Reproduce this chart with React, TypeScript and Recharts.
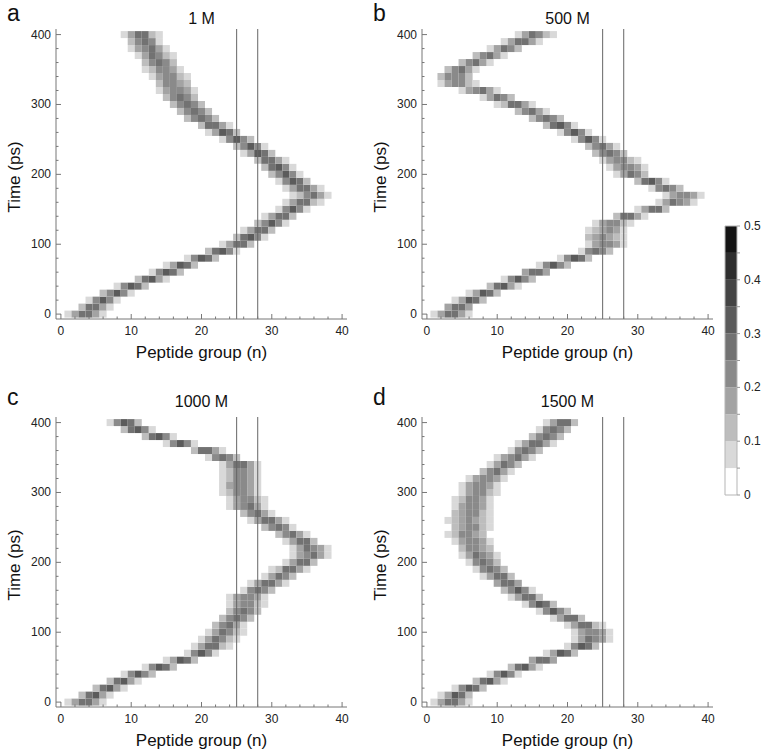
import React from "react";
import { ComposedChart, XAxis, YAxis, ReferenceArea, ReferenceLine } from "recharts";

const FONT = '"Liberation Sans", Arial, sans-serif';
const FRAME = "#777";

// time rows (ps) and peptide groups
const TIMES = [0, 10, 20, 30, 40, 50, 60, 70, 80, 90, 100, 110, 120, 130, 140, 150, 160, 170, 180, 190, 200,
  210, 220, 230, 240, 250, 260, 270, 280, 290, 300, 310, 320, 330, 340, 350, 360, 370, 380, 390, 400];
const GROUPS = Array.from({ length: 41 }, (_, i) => i);

// ticks
const X_TICKS = [0, 2, 4, 6, 8, 10, 12, 14, 16, 18, 20, 22, 24, 26, 28, 30, 32, 34, 36, 38, 40];
const X_MAJOR = [0, 10, 20, 30, 40];
const Y_TICKS = [0, 20, 40, 60, 80, 100, 120, 140, 160, 180, 200, 220, 240, 260, 280, 300, 320, 340, 360, 380, 400];
const Y_MAJOR = [0, 100, 200, 300, 400];
const MARKERS = [25, 28];

// colour scale
const LEVELS = [0, 0.05, 0.1, 0.15, 0.2, 0.25, 0.3, 0.35, 0.4, 0.45];
const SHADES = ["#ffffff", "#d9d9d9", "#bdbdbd", "#a3a3a3", "#8a8a8a", "#727272", "#5b5b5b", "#444444", "#2e2e2e", "#141414"];
const CB_TICKS = [0, 0.05, 0.1, 0.15, 0.2, 0.25, 0.3, 0.35, 0.4, 0.45, 0.5];

// band centre (peptide group) and spread per time row
const CENTER_1M = [3.5, 4.6, 6.0, 7.9, 10.2, 12.6, 15.2, 17.3, 20.2, 22.8, 25.4, 26.8, 28.3, 29.9, 31.4, 33.0, 34.4, 35.7, 34.5, 33.2, 31.9,
  30.8, 29.6, 28.3, 26.9, 25.1, 23.4, 21.6, 20.0, 19.0, 18.0, 17.1, 16.6, 15.9, 15.2, 14.7, 14.0, 13.3, 12.6, 11.9, 11.4];
const SPREAD_1M = [1.4, 1.3, 1.25, 1.25, 1.25, 1.25, 1.25, 1.25, 1.25, 1.25, 1.3, 1.3, 1.3, 1.3, 1.3, 1.3, 1.4, 1.5, 1.4, 1.3, 1.3,
  1.3, 1.3, 1.25, 1.25, 1.25, 1.25, 1.3, 1.4, 1.5, 1.55, 1.55, 1.6, 1.6, 1.6, 1.6, 1.55, 1.55, 1.5, 1.45, 1.4];

const CENTER_500M = [3.5, 4.5, 6.4, 8.4, 10.7, 13.1, 15.5, 18.1, 21.2, 24.1, 25.6, 25.3, 25.6, 26.3, 28.7, 32.3, 35.4, 36.4, 34.1, 31.8, 29.2,
  28.4, 27.3, 26.0, 24.8, 23.0, 21.0, 18.8, 17.0, 14.8, 12.6, 10.2, 7.6, 4.2, 4.0, 4.8, 6.8, 8.8, 11.2, 13.5, 15.3];
const SPREAD_500M = [1.4, 1.25, 1.25, 1.25, 1.25, 1.25, 1.25, 1.25, 1.25, 1.4, 1.7, 1.9, 1.9, 1.6, 1.4, 1.3, 1.5, 1.6, 1.4, 1.3, 1.5,
  1.6, 1.6, 1.5, 1.5, 1.3, 1.3, 1.3, 1.4, 1.4, 1.4, 1.4, 1.5, 1.6, 1.6, 1.5, 1.4, 1.4, 1.4, 1.5, 1.5];

const CENTER_1000M = [3.5, 4.7, 6.6, 8.7, 11.1, 14.2, 17.3, 20.0, 21.4, 22.3, 23.3, 23.8, 25.0, 26.0, 26.3, 26.6, 28.1, 29.5, 31.2, 32.6, 34.3,
  35.6, 35.4, 34.3, 32.8, 30.9, 29.5, 27.8, 26.6, 26.2, 25.7, 25.4, 25.7, 25.7, 25.5, 23.1, 20.7, 17.0, 13.8, 10.8, 9.2];
const SPREAD_1000M = [1.4, 1.25, 1.25, 1.25, 1.25, 1.25, 1.25, 1.3, 1.4, 1.5, 1.5, 1.5, 1.5, 1.5, 1.6, 1.6, 1.5, 1.4, 1.4, 1.4, 1.4,
  1.5, 1.5, 1.4, 1.4, 1.4, 1.4, 1.4, 1.5, 1.6, 1.7, 1.7, 1.6, 1.6, 1.5, 1.4, 1.4, 1.3, 1.3, 1.3, 1.25];

const CENTER_1500M = [3.5, 4.3, 6.2, 8.6, 11.0, 13.6, 16.5, 19.3, 22.2, 23.4, 23.6, 22.4, 20.3, 18.1, 16.2, 14.3, 12.9, 11.5, 10.3, 9.1, 8.1,
  7.4, 6.9, 6.4, 5.9, 6.2, 5.9, 6.2, 6.4, 6.7, 7.2, 7.6, 8.4, 9.8, 11.2, 12.6, 14.1, 15.5, 17.0, 18.1, 19.3];
const SPREAD_1500M = [1.4, 1.25, 1.25, 1.25, 1.25, 1.25, 1.25, 1.25, 1.3, 1.5, 1.6, 1.4, 1.3, 1.3, 1.3, 1.3, 1.3, 1.3, 1.4, 1.4, 1.5,
  1.5, 1.6, 1.7, 1.7, 1.8, 1.8, 1.8, 1.7, 1.7, 1.6, 1.6, 1.6, 1.5, 1.5, 1.5, 1.4, 1.4, 1.4, 1.4, 1.3];

const PANELS = [
  { letter: "a", title: "1 M", centers: CENTER_1M, spreads: SPREAD_1M, left: 0, top: 0 },
  { letter: "b", title: "500 M", centers: CENTER_500M, spreads: SPREAD_500M, left: 366, top: 0 },
  { letter: "c", title: "1000 M", centers: CENTER_1000M, spreads: SPREAD_1000M, left: 0, top: 388 },
  { letter: "d", title: "1500 M", centers: CENTER_1500M, spreads: SPREAD_1500M, left: 366, top: 388 },
];

type Cell = { n: number; t: number; p: number };

// occupancy of each group per time row (normalised over the groups)
function buildCells(centers: number[], spreads: number[]): Cell[] {
  const cells: Cell[] = [];
  TIMES.forEach((t, i) => {
    const c = centers[i];
    const s = spreads[i];
    const w = GROUPS.map((n) => Math.exp(-((n - c) ** 2) / (2 * s * s)));
    const total = w.reduce((a, b) => a + b, 0);
    GROUPS.forEach((n, j) => {
      const p = w[j] / total;
      if (p >= 0.05) cells.push({ n, t, p });
    });
  });
  return cells;
}

const shade = (p: number) => SHADES[Math.min(SHADES.length - 1, Math.floor(p / 0.05))];

const BottomTick = (props: any) => {
  const { x, y, payload } = props;
  const major = X_MAJOR.includes(payload.value);
  return (
    <g>
      <line x1={x} x2={x} y1={y} y2={y - (major ? 5 : 2.5)} stroke={FRAME} />
      {major && (
        <text x={x} y={y + 16} textAnchor="middle" fontSize={12} fontFamily={FONT} fill="#222">
          {payload.value}
        </text>
      )}
    </g>
  );
};

const TopTick = (props: any) => {
  const { x, y, payload } = props;
  const major = X_MAJOR.includes(payload.value);
  return <line x1={x} x2={x} y1={y} y2={y + (major ? 5 : 2.5)} stroke={FRAME} />;
};

const LeftTick = (props: any) => {
  const { x, y, payload } = props;
  const major = Y_MAJOR.includes(payload.value);
  return (
    <g>
      <line x1={x} x2={x + (major ? 5 : 2.5)} y1={y} y2={y} stroke={FRAME} />
      {major && (
        <text x={x - 5} y={y + 4} textAnchor="end" fontSize={12} fontFamily={FONT} fill="#222">
          {payload.value}
        </text>
      )}
    </g>
  );
};

const RightTick = (props: any) => {
  const { x, y, payload } = props;
  const major = Y_MAJOR.includes(payload.value);
  return <line x1={x} x2={x - (major ? 5 : 2.5)} y1={y} y2={y} stroke={FRAME} />;
};

const BarTick = (props: any) => {
  const { x, y, payload } = props;
  const v = payload.value as number;
  const major = Math.round(v * 100) % 10 === 0;
  return (
    <g>
      <line x1={x} x2={x + 3} y1={y} y2={y} stroke="#999" />
      {major && (
        <text x={x + 7} y={y + 4} textAnchor="start" fontSize={12} fontFamily={FONT} fill="#222">
          {v === 0 ? "0" : v.toFixed(1)}
        </text>
      )}
    </g>
  );
};

function Panel({ centers, spreads }: { centers: number[]; spreads: number[] }) {
  const cells = buildCells(centers, spreads);
  return (
    <ComposedChart width={360} height={368} margin={{ top: 29, right: 13, left: 0, bottom: 0 }}>
      <XAxis type="number" dataKey="n" domain={[-0.7, 40.7]} allowDataOverflow ticks={X_TICKS} interval={0}
        tick={BottomTick} tickLine={false} tickSize={0} tickMargin={0} height={49} axisLine={{ stroke: FRAME }} />
      <XAxis xAxisId="top" orientation="top" type="number" domain={[-0.7, 40.7]} allowDataOverflow ticks={X_TICKS} interval={0}
        tick={TopTick} tickLine={false} tickSize={0} tickMargin={0} height={0} axisLine={{ stroke: FRAME }} />
      <YAxis type="number" dataKey="t" domain={[-7, 408]} allowDataOverflow ticks={Y_TICKS} interval={0}
        tick={LeftTick} tickLine={false} tickSize={0} tickMargin={0} width={56} axisLine={{ stroke: FRAME }} />
      <YAxis yAxisId="right" orientation="right" type="number" domain={[-7, 408]} allowDataOverflow ticks={Y_TICKS} interval={0}
        tick={RightTick} tickLine={false} tickSize={0} tickMargin={0} width={0} axisLine={{ stroke: FRAME }} />
      {cells.map((c, i) => (
        <ReferenceArea key={i} x1={c.n - 0.5} x2={c.n + 0.5} y1={c.t - 5} y2={c.t + 5}
          fill={shade(c.p)} fillOpacity={1} stroke="none" ifOverflow="visible" />
      ))}
      {MARKERS.map((m) => (
        <ReferenceLine key={m} x={m} stroke="#666" strokeWidth={1} />
      ))}
    </ComposedChart>
  );
}

function ColorBar() {
  return (
    <ComposedChart width={68} height={320} margin={{ top: 26, right: 0, left: 25, bottom: 25 }}>
      <XAxis type="number" dataKey="x" domain={[0, 1]} allowDataOverflow height={0} tick={false} tickLine={false} axisLine={false} />
      <YAxis orientation="right" type="number" dataKey="v" domain={[0, 0.5]} allowDataOverflow ticks={CB_TICKS} interval={0}
        tick={BarTick} tickLine={false} tickSize={0} tickMargin={0} width={31} axisLine={false} />
      {LEVELS.map((lv, i) => (
        <ReferenceArea key={lv} x1={0} x2={1} y1={lv} y2={lv + 0.05} fill={SHADES[i]} fillOpacity={1} stroke="none" />
      ))}
      <ReferenceArea x1={0} x2={1} y1={0} y2={0.5} fill="none" fillOpacity={0} stroke="#b5b5b5" />
    </ComposedChart>
  );
}

export default function App() {
  return (
    <div style={{ position: "absolute", left: 0, top: 0, width: 768, height: 756, background: "#fff", fontFamily: FONT }}>
      {PANELS.map((p) => (
        <div key={p.letter} style={{ position: "absolute", left: p.left, top: p.top }}>
          <Panel centers={p.centers} spreads={p.spreads} />
        </div>
      ))}
      <div style={{ position: "absolute", left: 700, top: 200 }}>
        <ColorBar />
      </div>
      <svg width={768} height={756} style={{ position: "absolute", left: 0, top: 0, pointerEvents: "none" }}>
        {PANELS.map((p) => {
          const cx = p.left + 56 + 145.5;
          const base = p.top === 0 ? 0 : 383.5;
          return (
            <g key={p.letter} fontFamily={FONT} fill="#111">
              <text x={p.left + 7} y={base + 21 + (p.top === 0 ? 0 : 0.5)} fontSize={23}>{p.letter}</text>
              <text x={cx} y={base + 23.5} fontSize={16} textAnchor="middle">{p.title}</text>
              <text x={cx} y={p.top + 358} fontSize={17} textAnchor="middle">Peptide group (n)</text>
              <text x={p.left + 20} y={p.top + 177} fontSize={17} textAnchor="middle"
                transform={`rotate(-90 ${p.left + 20} ${p.top + 177})`}>Time (ps)</text>
            </g>
          );
        })}
      </svg>
    </div>
  );
}
